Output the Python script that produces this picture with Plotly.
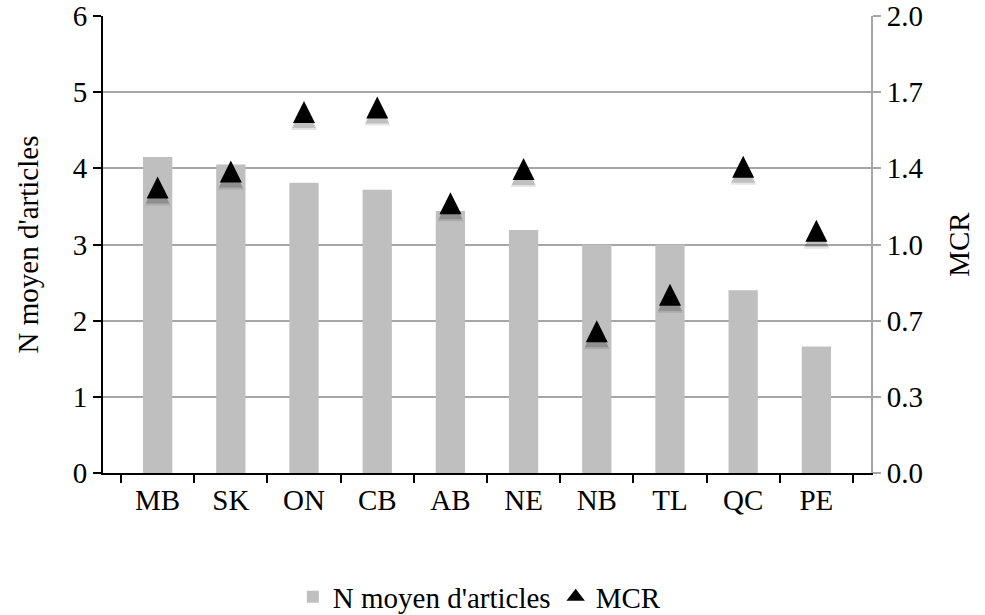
import plotly.graph_objects as go

# Provinces / territories
categories = ["MB", "SK", "ON", "CB", "AB", "NE", "NB", "TL", "QC", "PE"]
# Mean number of articles (left axis)
n_articles = [4.15, 4.05, 3.81, 3.72, 3.44, 3.19, 3.00, 3.00, 2.40, 1.66]
# MCR (right axis)
mcr = [1.25, 1.32, 1.58, 1.60, 1.18, 1.33, 0.62, 0.78, 1.34, 1.06]

left_ticks = [0, 1, 2, 3, 4, 5, 6]
right_tickvals = [0, 1 / 3, 2 / 3, 1, 4 / 3, 5 / 3, 2]
right_ticktext = ["0.0", "0.3", "0.7", "1.0", "1.4", "1.7", "2.0"]

FONT = "Liberation Serif, Times New Roman, serif"
FS = 29
GRID = "#a6a6a6"
TRI = 22  # triangle marker size (px)

fig = go.Figure()

fig.add_trace(go.Bar(
    x=categories, y=n_articles, name="N moyen d'articles",
    marker=dict(color="#bfbfbf", line=dict(width=0)),
    yaxis="y",
))

# Upward triangles built from the arrow glyph rotated 180 degrees, pushed up by
# half their height so the triangle is centred on the value.
# Two faint, slightly lower copies give a soft drop shadow.
for extra, drop, alpha in [(4, 5, 0.10), (2, 4, 0.16)]:
    fig.add_trace(go.Scatter(
        x=categories, y=mcr, mode="markers", yaxis="y2", showlegend=False,
        hoverinfo="skip",
        marker=dict(symbol="arrow-down", angle=180, size=TRI + extra,
                    color=f"rgba(0,0,0,{alpha})",
                    standoff=(TRI + extra) / 2 - drop, line=dict(width=0)),
    ))

fig.add_trace(go.Scatter(
    x=categories, y=mcr, mode="markers", name="MCR", yaxis="y2",
    showlegend=False, legendgroup="mcr",
    marker=dict(symbol="arrow-down", angle=180, size=TRI, color="black",
                standoff=TRI / 2, line=dict(width=0)),
))

# legend key for the MCR series (plain triangle glyph)
fig.add_trace(go.Scatter(
    x=[None], y=[None], mode="markers", name="MCR", yaxis="y2",
    legendgroup="mcr", hoverinfo="skip",
    marker=dict(symbol="triangle-up", size=16, color="black", line=dict(width=0)),
))

fig.update_layout(
    width=985, height=615,
    margin=dict(l=103, r=114, t=16, b=142, autoexpand=False),
    paper_bgcolor="white", plot_bgcolor="white",
    font=dict(family=FONT, size=FS, color="black"),
    bargap=0.6,
    showlegend=True,
    legend=dict(orientation="h", x=0.49, xanchor="center", y=-0.271, yanchor="middle",
                font=dict(family=FONT, size=FS), itemwidth=30, tracegroupgap=0),
    xaxis=dict(
        showline=True, linecolor="black", linewidth=2, automargin=False,
        ticks="outside", tickson="boundaries", ticklen=8, tickwidth=2, tickcolor="black",
        showgrid=False, tickfont=dict(size=FS),
    ),
    yaxis=dict(
        range=[0, 6], tickvals=left_ticks, automargin=False,
        showline=True, linecolor="black", linewidth=2,
        ticks="outside", ticklen=8, tickwidth=2, tickcolor="black",
        showgrid=True, gridcolor=GRID, gridwidth=2, zeroline=False,
        title=dict(text="N moyen d'articles", font=dict(size=FS), standoff=26),
        tickfont=dict(size=FS),
    ),
    yaxis2=dict(
        range=[0, 2], overlaying="y", side="right", automargin=False,
        tickvals=right_tickvals, ticktext=right_ticktext,
        showline=True, linecolor=GRID, linewidth=2,
        ticks="outside", ticklen=8, tickwidth=2, tickcolor=GRID,
        showgrid=False, zeroline=False,
        title=dict(text="MCR", font=dict(size=FS), standoff=26),
        tickfont=dict(size=FS),
    ),
)

fig.write_html("out.html")
